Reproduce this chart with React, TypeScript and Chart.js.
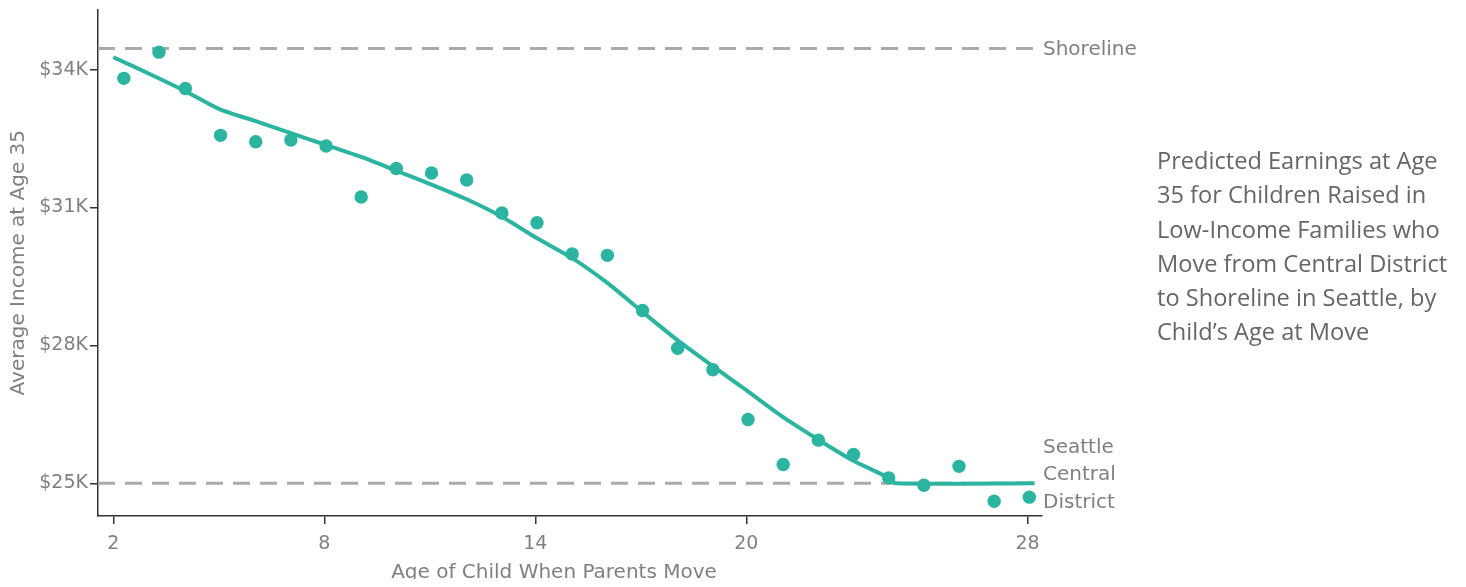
import React, { useEffect, useRef } from "react";
import { Chart, registerables } from "chart.js";

Chart.register(...registerables);

const ages = [2.3, 3.3, 4.05, 5.05, 6.05, 7.05, 8.05, 9.05, 10.05, 11.05, 12.05, 13.05, 14.05, 15.05, 16.05, 17.05, 18.05, 19.05, 20.05, 21.05, 22.05, 23.05, 24.05, 25.05, 26.05, 27.05, 28.05];
const incomes = [33.81, 34.38, 33.59, 32.57, 32.43, 32.47, 32.34, 31.23, 31.85, 31.75, 31.6, 30.88, 30.67, 29.99, 29.96, 28.76, 27.94, 27.47, 26.39, 25.41, 25.94, 25.63, 25.12, 24.96, 25.37, 24.61, 24.7];

const fitAges = [2.0, 3.05, 4.05, 5.05, 6.05, 7.05, 8.05, 9.05, 10.05, 11.05, 12.05, 13.05, 14.05, 15.05, 16.05, 17.05, 18.05, 19.05, 20.05, 21.05, 22.05, 23.05, 24.05, 24.25, 28.2];
const fitIncomes = [34.27, 33.9, 33.53, 33.13, 32.88, 32.62, 32.36, 32.1, 31.8, 31.5, 31.18, 30.8, 30.33, 29.9, 29.36, 28.73, 28.11, 27.55, 27.0, 26.44, 25.95, 25.49, 25.12, 25.0, 25.0];

const xTicks = [2, 8, 14, 20, 28];
const yTicks = [25, 28, 31, 34];
const shorelineValue = 34.46;
const centralValue = 25.0;
const xMin = 1.565;
const xMax = 28.41;
const yMin = 24.29;
const yMax = 35.31;

const titleLines = [
  "Predicted Earnings at Age",
  "35 for Children Raised in",
  "Low-Income Families who",
  "Move from Central District",
  "to Shoreline in Seattle, by",
  "Child\u2019s Age at Move",
];

const TEAL = "#2bb5a0";
const GRAY = "#808080";
const AXIS_FONT = "'DejaVu Sans', sans-serif";
const SHIFT = 12;

const textPlugin = {
  id: "customText",
  afterDraw(chart: any) {
    const ctx = chart.ctx;
    const ca = chart.chartArea;
    const ys = chart.scales.y;
    ctx.save();
    ctx.fillStyle = GRAY;
    ctx.font = `20px ${AXIS_FONT}`;
    ctx.textBaseline = "middle";
    ctx.textAlign = "left";
    ctx.fillText("Shoreline", ca.right + 1, ys.getPixelForValue(shorelineValue) + 1);
    const cy = ys.getPixelForValue(centralValue);
    ctx.fillText("Seattle", ca.right + 1, cy - 36);
    ctx.fillText("Central", ca.right + 1, cy - 9);
    ctx.fillText("District", ca.right + 1, cy + 19);
    // x title
    ctx.textAlign = "center";
    ctx.fillText("Age of Child When Parents Move", 546, 565 + SHIFT);
    // y title
    ctx.translate(11, (ca.top + ca.bottom) / 2);
    ctx.rotate(-Math.PI / 2);
    ctx.fillText("Average Income at Age 35", 0, 0);
    ctx.restore();
  },
};

export default function App() {
  const ref = useRef<HTMLCanvasElement>(null);
  useEffect(() => {
    if (!ref.current) return;
    const chart = new Chart(ref.current, {
      type: "scatter",
      data: {
        datasets: [
          {
            type: "scatter",
            data: ages.map((x, i) => ({ x, y: incomes[i] })),
            backgroundColor: TEAL,
            borderColor: TEAL,
            pointRadius: 6.7,
            pointBorderWidth: 0,
            order: 0,
          },
          {
            type: "line",
            data: fitAges.map((x, i) => ({ x, y: fitIncomes[i] })),
            borderColor: TEAL,
            borderWidth: 4,
            pointRadius: 0,
            tension: 0.2,
            order: 1,
          },
          {
            type: "line",
            data: [{ x: xMin, y: shorelineValue }, { x: xMax, y: shorelineValue }],
            borderColor: "#aaaaaa",
            borderWidth: 3,
            borderDash: [17, 10],
            pointRadius: 0,
            order: 2,
          },
          {
            type: "line",
            data: [{ x: xMin, y: centralValue }, { x: xMax, y: centralValue }],
            borderColor: "#aaaaaa",
            borderWidth: 3,
            borderDash: [17, 10],
            pointRadius: 0,
            order: 3,
          },
        ],
      },
      options: {
        animation: false,
        responsive: false,
        maintainAspectRatio: false,
        layout: { padding: { left: 0, right: 116, top: 0, bottom: 0 } },
        plugins: { legend: { display: false }, tooltip: { enabled: false } },
        scales: {
          x: {
            type: "linear",
            min: xMin,
            max: xMax,
            afterBuildTicks: (s: any) => {
              s.ticks = xTicks.map((v) => ({ value: v }));
            },
            afterFit: (s: any) => {
              s.height = 63;
            },
            grid: { display: true, drawOnChartArea: false, drawTicks: true, tickLength: 8, color: "#333", lineWidth: 1.5 },
            border: { display: true, color: "#333", width: 1.5 },
            ticks: { color: GRAY, font: { size: 19, family: AXIS_FONT }, padding: 9, maxRotation: 0 },
          },
          y: {
            type: "linear",
            min: yMin,
            max: yMax,
            afterBuildTicks: (s: any) => {
              s.ticks = yTicks.map((v) => ({ value: v }));
            },
            afterFit: (s: any) => {
              s.width = 90;
            },
            grid: { display: true, drawOnChartArea: false, drawTicks: true, tickLength: 8, color: "#333", lineWidth: 1.5 },
            border: { display: true, color: "#333", width: 1.5 },
            ticks: { color: GRAY, font: { size: 19, family: AXIS_FONT }, padding: 2, callback: (v: any) => `$${v}K` },
          },
        },
      },
      plugins: [textPlugin],
    });
    return () => chart.destroy();
  }, []);
  return (
    <div style={{ position: "relative", width: 1450, height: 571 }}>
      <canvas
        ref={ref}
        width={1150}
        height={571 + SHIFT}
        style={{ position: "absolute", left: 0, top: -SHIFT, width: 1150, height: 571 + SHIFT }}
      />
      <div
        style={{
          position: "absolute",
          left: 1149,
          top: 135,
          fontFamily: "'Open Sans', sans-serif",
          fontSize: 23.6,
          lineHeight: "34.3px",
          color: "#666",
          whiteSpace: "nowrap",
        }}
      >
        {titleLines.map((l, i) => (
          <div key={i}>{l}</div>
        ))}
      </div>
    </div>
  );
}
